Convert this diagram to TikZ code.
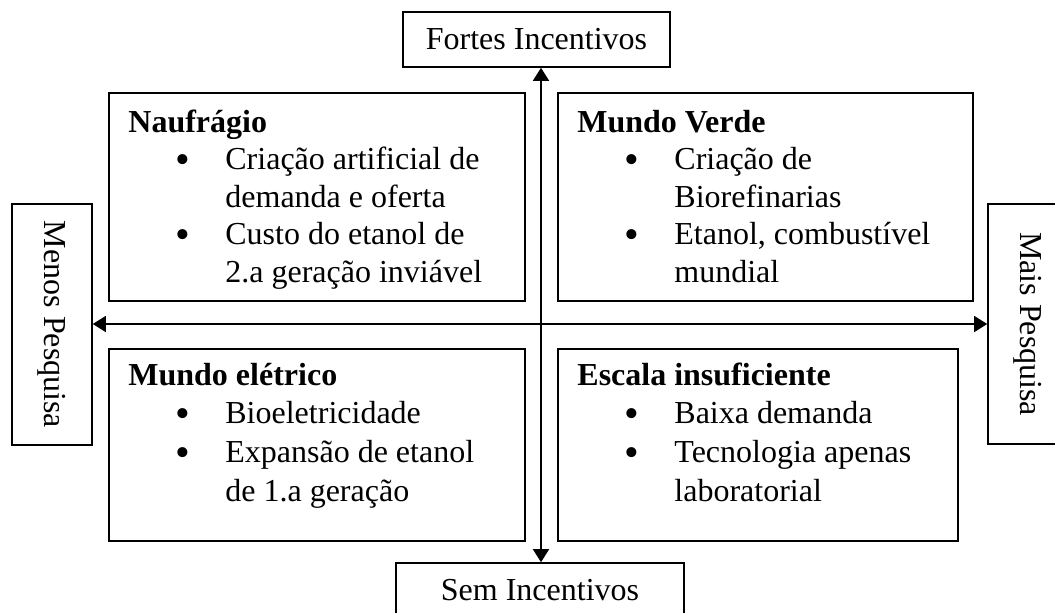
\documentclass[tikz,border=0pt]{standalone}
\usepackage{fontspec}
\setmainfont{Liberation Serif}
\usetikzlibrary{arrows.meta}

\tikzset{
  quadro/.style={draw, line width=0.8pt, inner sep=0pt, anchor=north west},
  rotulo/.style={draw, line width=0.8pt, inner sep=0pt, font=\fontsize{16}{18.7}\selectfont},
  texto/.style={inner sep=0pt, anchor=base west, font=\fontsize{16}{18.75}\selectfont},
  seta/.style={{Triangle[length=6.5pt,width=8pt]}-{Triangle[length=6.5pt,width=8pt]}, line width=0.75pt}
}
\newcommand{\marcador}{\hspace*{23.5pt}\makebox[25pt][l]{\smash{\raisebox{-2pt}{\fontsize{21}{21}\selectfont\textbullet}}}}
\newcommand{\recuo}{\hspace*{48.5pt}}

\begin{document}
\begin{tikzpicture}[x=0.5pt,y=-0.5pt]
\useasboundingbox (0,0) rectangle (1055,612);

\node[rotulo, minimum width=133.5pt, minimum height=27.5pt] (fortes) at (536.5,39.5) {Fortes Incentivos};
\node[rotulo, minimum width=144pt, minimum height=27.5pt] (sem) at (540,590.5) {Sem Incentivos};
\node[rotulo, rotate=-90, minimum width=120.5pt, minimum height=40pt] (menos) at (52,324.5) {Menos Pesquisa};
\node[rotulo, rotate=-90, minimum width=120pt, minimum height=40pt] (mais) at (1028,324) {Mais Pesquisa};

\node[quadro, minimum width=208pt, minimum height=104pt] (naufragio) at (108,92) {};
\node[quadro, minimum width=207.5pt, minimum height=104pt] (verde) at (557,92) {};
\node[quadro, minimum width=208pt, minimum height=96pt] (eletrico) at (108,348) {};
\node[quadro, minimum width=200pt, minimum height=96pt] (escala) at (557,348) {};

\node[texto] (naufragio-txt) at ([shift={(10pt,-20pt)}]naufragio.north west) {\begin{minipage}[t]{195pt}
\raggedright\textbf{Naufrágio}\\
\marcador Criação artificial de\\
\recuo demanda e oferta\\
\marcador Custo do etanol de\\
\recuo 2.a geração inviável
\end{minipage}};
\node[texto] (verde-txt) at ([shift={(10pt,-20pt)}]verde.north west) {\begin{minipage}[t]{195pt}
\raggedright\textbf{Mundo Verde}\\
\marcador Criação de\\
\recuo Biorefinarias\\
\marcador Etanol, combustível\\
\recuo mundial
\end{minipage}};
\node[texto, font=\fontsize{16}{19.4}\selectfont] (eletrico-txt) at ([shift={(10pt,-18.5pt)}]eletrico.north west) {\begin{minipage}[t]{195pt}
\raggedright\textbf{Mundo elétrico}\\
\marcador Bioeletricidade\\
\marcador Expansão de etanol\\
\recuo de 1.a geração
\end{minipage}};
\node[texto, font=\fontsize{16}{19.4}\selectfont] (escala-txt) at ([shift={(10pt,-18.5pt)}]escala.north west) {\begin{minipage}[t]{185pt}
\raggedright\textbf{Escala insuficiente}\\
\marcador Baixa demanda\\
\marcador Tecnologia apenas\\
\recuo laboratorial
\end{minipage}};

\coordinate (centro) at (541,324);
\draw[seta] (fortes.south -| centro) -- (sem.north -| centro);
\draw[seta] (menos.north |- centro) -- (mais.south |- centro);
\end{tikzpicture}
\end{document}
